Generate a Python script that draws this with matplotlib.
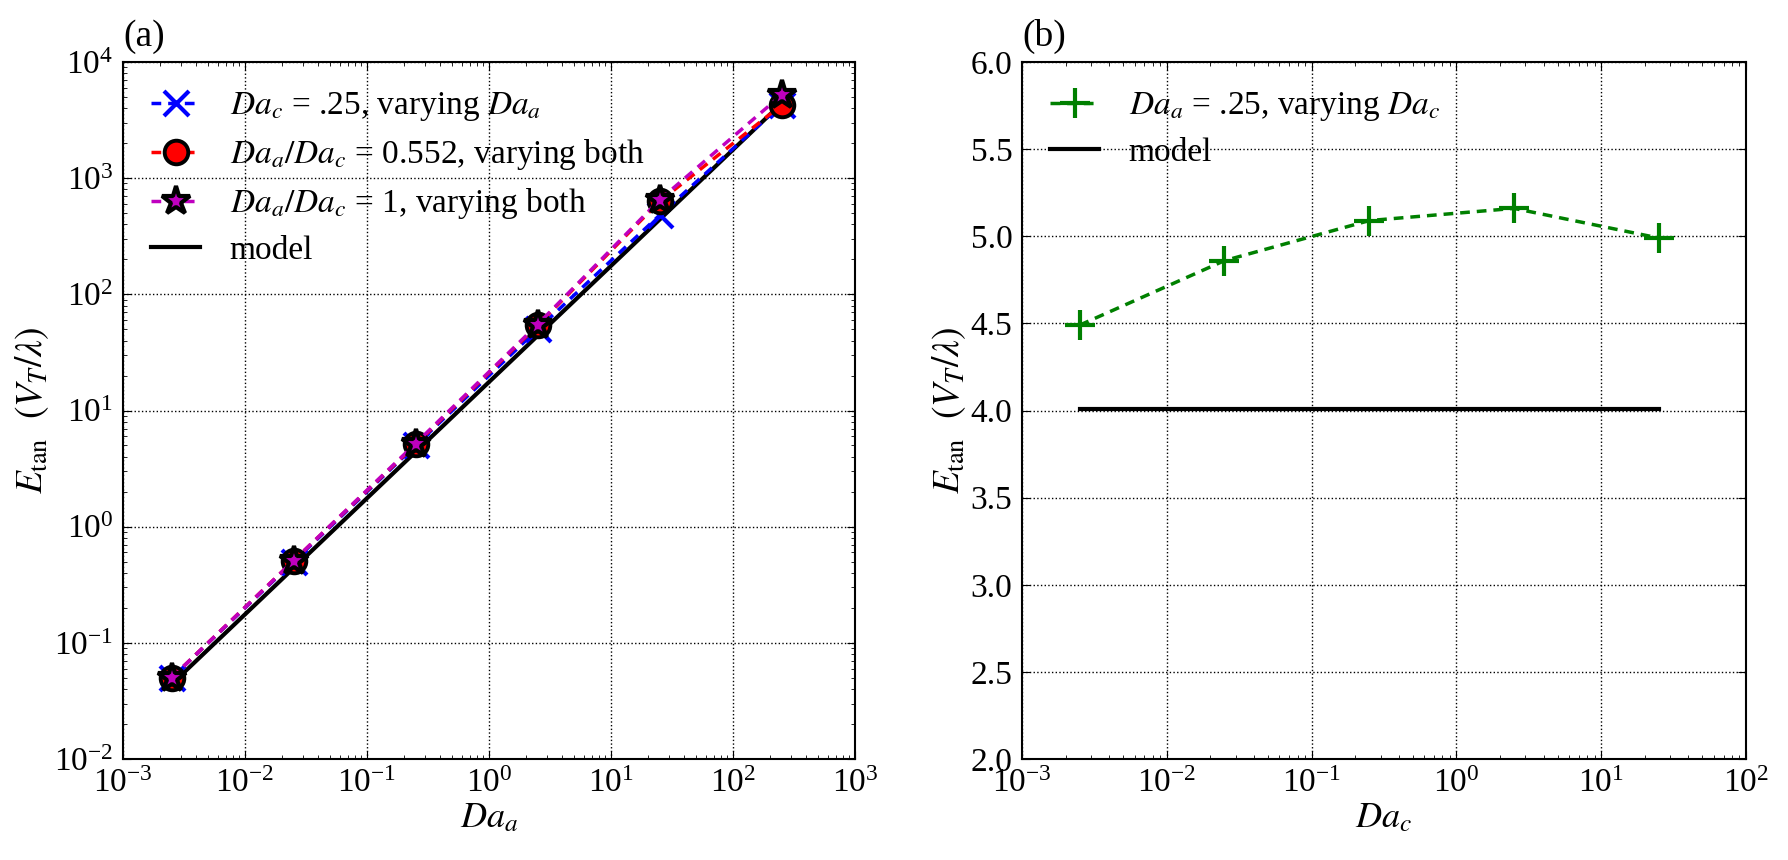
import matplotlib
matplotlib.use('Agg')
import matplotlib.pyplot as plt

plt.rcParams['font.family'] = ['Liberation Serif', 'DejaVu Serif']
plt.rcParams['mathtext.fontset'] = 'stix'
plt.rcParams['font.size'] = 24
plt.rcParams['axes.labelsize'] = 26
plt.rcParams['lines.scale_dashes'] = False
plt.rcParams['xtick.direction'] = 'in'
plt.rcParams['ytick.direction'] = 'in'
plt.rcParams['xtick.top'] = True
plt.rcParams['ytick.right'] = True
plt.rcParams['xtick.major.size'] = 6
plt.rcParams['ytick.major.size'] = 6
plt.rcParams['xtick.minor.size'] = 3
plt.rcParams['ytick.minor.size'] = 3
plt.rcParams['xtick.major.pad'] = 7
plt.rcParams['ytick.major.pad'] = 7
plt.rcParams['axes.linewidth'] = 1.5
plt.rcParams['axes.labelpad'] = 2

# panel (a) data
da_a = [0.0025, 0.025, 0.25, 2.5, 25, 250]
e_fixed_dac = [0.05, 0.50, 5.0, 50, 480, 4300]
e_ratio_0552 = [0.05, 0.51, 5.1, 54, 630, 4260]
e_ratio_1 = [0.05, 0.51, 5.2, 55, 650, 5200]
e_model_a = [0.044, 0.44, 4.4, 44, 440, 4400]

# panel (b) data
da_c = [0.0025, 0.025, 0.25, 2.5, 25]
e_fixed_daa = [4.49, 4.86, 5.09, 5.16, 4.99]
e_model_b = [4.01, 4.01, 4.01, 4.01, 4.01]

dash = (0, (7, 5))
ylab = r'$E_{\rm tan}$  $(V_T/\lambda)$'
leg_kw = dict(loc='upper left', frameon=False, numpoints=1, fontsize=24,
              handlelength=1.45, handletextpad=0.9, labelspacing=0.42,
              borderaxespad=0.45)

fig = plt.figure(figsize=(17.88, 8.6), dpi=100)
ax1 = fig.add_axes([0.0688, 0.1174, 0.4094, 0.8105])
ax2 = fig.add_axes([0.5716, 0.1174, 0.4049, 0.8105])

# (a)
ax1.plot(da_a, e_model_a, color='k', lw=3, zorder=1, label='model')
ax1.plot(da_a, e_fixed_dac, color='b', ls=dash, lw=2.5, marker='x', ms=18, mew=3,
         zorder=2, label=r'$Da_c$ = .25, varying $Da_a$')
ax1.plot(da_a, e_ratio_0552, color='r', ls=dash, lw=2.5, marker='o', ms=17,
         mfc='r', mec='k', mew=2.8, zorder=3, label=r'$Da_a/Da_c$ = 0.552, varying both')
ax1.plot(da_a, e_ratio_1, color='m', ls=dash, lw=2.5, marker='*', ms=21,
         mfc='m', mec='k', mew=3, zorder=4, label=r'$Da_a/Da_c$ = 1, varying both')
ax1.set_xscale('log')
ax1.set_yscale('log')
ax1.set_xlim(1e-3, 1e3)
ax1.set_ylim(1e-2, 1e4)
ax1.set_xlabel(r'$Da_a$')
ax1.set_ylabel(ylab, fontsize=27)
ax1.grid(True, which='major', color='k', ls=':', lw=1)
h, l = ax1.get_legend_handles_labels()
order = [1, 2, 3, 0]
ax1.legend([h[i] for i in order], [l[i] for i in order], **leg_kw)
ax1.text(0.0, 1.012, '(a)', transform=ax1.transAxes, fontsize=27, va='bottom')

# (b)
ax2.plot(da_c, e_fixed_daa, color='g', ls=dash, lw=2.5, marker='+', ms=21, mew=3,
         label=r'$Da_a$ = .25, varying $Da_c$')
ax2.plot(da_c, e_model_b, color='k', lw=3, label='model')
ax2.set_xscale('log')
ax2.set_xlim(1e-3, 1e2)
ax2.set_ylim(2.0, 6.0)
ax2.set_yticks([2.0, 2.5, 3.0, 3.5, 4.0, 4.5, 5.0, 5.5, 6.0])
ax2.set_yticklabels(['2.0', '2.5', '3.0', '3.5', '4.0', '4.5', '5.0', '5.5', '6.0'])
ax2.set_xlabel(r'$Da_c$')
ax2.set_ylabel(ylab, fontsize=27)
ax2.grid(True, which='major', color='k', ls=':', lw=1)
ax2.legend(**leg_kw)
ax2.text(0.0, 1.012, '(b)', transform=ax2.transAxes, fontsize=27, va='bottom')

fig.savefig('out.png', dpi=100)
